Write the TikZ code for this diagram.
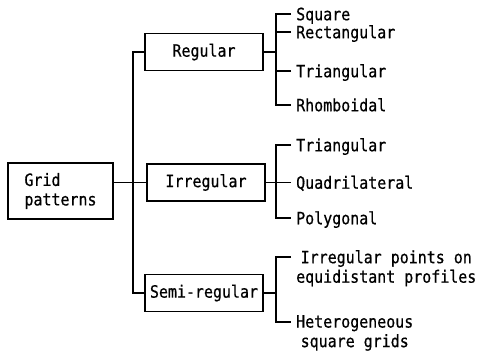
\documentclass[tikz,border=0pt]{standalone}
\usepackage{fontspec}
\newfontfamily\gridfont[FakeStretch=0.88,FakeBold=0.6]{DejaVu Sans Mono}
\usetikzlibrary{positioning}
\tikzset{
    box/.style={
    rectangle,draw=black,line width=1.3pt,minimum width=118pt,minimum height=37pt,inner sep=0pt
    },
    leaf/.style={
    anchor=west,inner xsep=5pt,inner ysep=0pt,text height=12.5pt,text depth=0pt
    },
    leaftwo/.style={
    anchor=north west,align=center,inner xsep=5pt,inner ysep=0pt,yshift=7pt
    },
    link/.style={
    draw=black,line width=1.3pt
    },
}

\begin{document}
\begin{tikzpicture}[x=1pt,y=-1pt,font=\gridfont\fontsize{17}{19.5}\selectfont]
   \useasboundingbox (0,0) rectangle (481,363);
   % root and the three classes
   \node[box,minimum width=105pt,minimum height=56pt,align=left] (grid) at (60.5,191) {Grid\\patterns};
   \node[box] (reg) at (204,52) {Regular};
   \node[box] (irr) at (206,182.5) {Irregular};
   \node[box] (semi) at (204,293) {Semi-regular};
   \coordinate (trunk) at (133,0);
   \coordinate (fork) at (276,0);

   % leaves
   \node[leaf] (sq) at (291,14) {Square};
   \node[leaf] (rect) at (291,32) {Rectangular};
   \node[leaf] (tri) at (291,71) {Triangular};
   \node[leaf] (rh) at (291,105) {Rhomboidal};
   \node[leaf] (itri) at (291,145) {Triangular};
   \node[leaf] (quad) at (291,182.5) {Quadrilateral};
   \node[leaf] (poly) at (291,218) {Polygonal};
   \coordinate (t1) at (291,257);
   \coordinate (t2) at (291,322);
   \node[leaftwo] (ipts) at (t1) {Irregular points on\\equidistant profiles};
   \node[leaftwo] (hsq) at (t2) {Heterogeneous\\square grids};

   % trunk
   \draw[link] (grid.east |- irr.west) -- (irr.west);
   \draw[link] (reg.west) -- (reg.west -| trunk) -- (semi.west -| trunk) -- (semi.west);

   % regular
   \draw[link] (reg.east) -- (reg.east -| fork);
   \draw[link] (sq.west) -- (sq.west -| fork) -- (rh.west -| fork) -- (rh.west);
   \draw[link] (rect.west) -- (rect.west -| fork);
   \draw[link] (tri.west) -- (tri.west -| fork);

   % irregular
   \draw[link] (irr.east) -- (irr.east -| fork);
   \draw[link] (itri.west) -- (itri.west -| fork) -- (poly.west -| fork) -- (poly.west);
   \draw[link] (quad.west) -- (quad.west -| fork);

   % semi-regular
   \draw[link] (semi.east) -- (semi.east -| fork);
   \draw[link] (t1) -- (t1 -| fork) -- (t2 -| fork) -- (t2);
\end{tikzpicture}
\end{document}
